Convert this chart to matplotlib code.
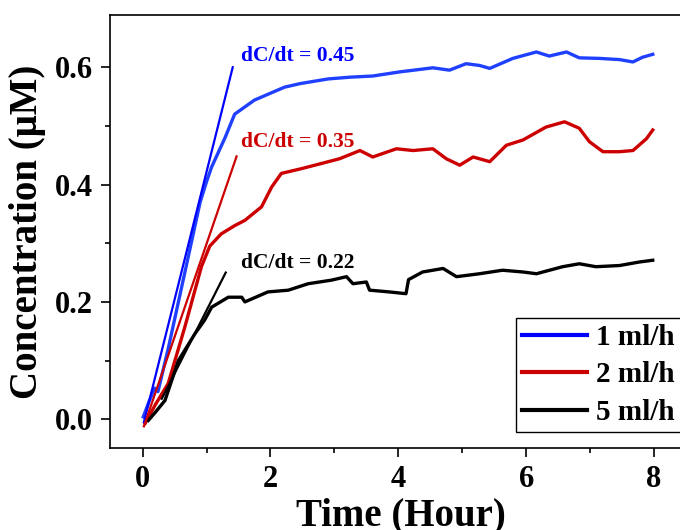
import numpy as np
import matplotlib
matplotlib.use("Agg")
import matplotlib.pyplot as plt
from matplotlib.ticker import MultipleLocator

plt.rcParams["font.family"] = ["Liberation Serif", "DejaVu Serif"]
plt.rcParams["font.weight"] = "bold"

# *********************************************************************************************
# data
# *********************************************************************************************
t_1ml = [0.01, 0.10, 0.19, 0.24, 0.40, 0.60, 0.77, 0.90, 1.00, 1.08, 1.29, 1.44, 1.75, 2.22,
         2.46, 2.90, 3.24, 3.60, 4.02, 4.54, 4.80, 5.06, 5.27, 5.43, 5.79, 6.16, 6.36, 6.63,
         6.83, 7.15, 7.46, 7.67, 7.82, 7.98]
c_1ml = [0.004, 0.030, 0.053, 0.047, 0.120, 0.220, 0.305, 0.370, 0.405, 0.430, 0.480, 0.520,
         0.544, 0.566, 0.572, 0.580, 0.583, 0.585, 0.592, 0.599, 0.595, 0.606, 0.603, 0.598,
         0.615, 0.626, 0.619, 0.626, 0.616, 0.615, 0.613, 0.609, 0.617, 0.622]

t_2ml = [0.04, 0.20, 0.40, 0.66, 0.92, 1.05, 1.23, 1.44, 1.60, 1.86, 2.02, 2.17, 2.48, 2.80,
         3.08, 3.40, 3.60, 3.97, 4.23, 4.54, 4.75, 4.96, 5.17, 5.43, 5.69, 5.95, 6.31, 6.60,
         6.83, 6.99, 7.20, 7.46, 7.67, 7.88, 7.98]
c_2ml = [-0.007, 0.025, 0.061, 0.157, 0.260, 0.295, 0.316, 0.330, 0.339, 0.362, 0.396, 0.419,
         0.427, 0.436, 0.444, 0.458, 0.447, 0.461, 0.458, 0.461, 0.444, 0.433, 0.447, 0.439,
         0.467, 0.476, 0.498, 0.507, 0.496, 0.473, 0.456, 0.456, 0.458, 0.478, 0.493]

t_5ml = [0.09, 0.20, 0.35, 0.56, 0.82, 0.97, 1.08, 1.34, 1.55, 1.60, 1.96, 2.28, 2.59, 2.95,
         3.19, 3.29, 3.50, 3.55, 3.86, 4.12, 4.16, 4.38, 4.70, 4.91, 5.27, 5.63, 5.95, 6.16,
         6.57, 6.83, 7.09, 7.46, 7.77, 7.98]
c_5ml = [-0.002, 0.012, 0.032, 0.100, 0.146, 0.169, 0.191, 0.208, 0.208, 0.200, 0.217, 0.220,
         0.231, 0.237, 0.243, 0.231, 0.234, 0.220, 0.217, 0.214, 0.238, 0.251, 0.257, 0.243,
         0.248, 0.254, 0.251, 0.248, 0.260, 0.265, 0.260, 0.262, 0.268, 0.271]

# linear fits of the initial slope (end points)
fit_t = [[0.02, 1.41], [0.02, 1.47], [0.30, 1.30]]
fit_c = [[-0.005, 0.60], [-0.012, 0.448], [0.035, 0.250]]
slopes = [0.45, 0.35, 0.22]
slope_t = [1.54, 1.54, 1.54]
slope_c = [0.610, 0.464, 0.257]

labels = ["1 ml/h", "2 ml/h", "5 ml/h"]
line_colors = ["#2040ff", "#cc0000", "black"]
fit_colors = ["#0000ff", "#cc0000", "black"]

# *********************************************************************************************
# plot
# *********************************************************************************************
fig = plt.figure(figsize=(6.8, 5.3), dpi=100)
ax = fig.add_axes([110 / 680, 1 - 448 / 530, 582.4 / 680, 433 / 530])

series = [(t_1ml, c_1ml), (t_2ml, c_2ml), (t_5ml, c_5ml)]
for (t, c), lab, col in zip(series, labels, line_colors):
    ax.plot(t, c, color=col, lw=2.4, label=lab)

for ft, fc, col in zip(fit_t, fit_c, fit_colors):
    ax.plot(ft, fc, color=col, lw=1.6)

for s, x, y, col in zip(slopes, slope_t, slope_c, fit_colors):
    ax.text(x, y, "dC/dt = {:.2f}".format(s), color=col, fontsize=15.5,
            fontweight="bold", va="baseline", ha="left")

ax.set_xlim(-0.51, 8.6)
ax.set_ylim(-0.049, 0.689)
ax.xaxis.set_major_locator(MultipleLocator(2))
ax.xaxis.set_minor_locator(MultipleLocator(1))
ax.yaxis.set_major_locator(MultipleLocator(0.2))
ax.yaxis.set_minor_locator(MultipleLocator(0.1))
ax.xaxis.set_major_formatter(plt.FuncFormatter(lambda v, p: "{:.0f}".format(v)))
ax.yaxis.set_major_formatter(plt.FuncFormatter(lambda v, p: "{:.1f}".format(v)))
ax.tick_params(which="major", direction="out", length=6.5, width=1.2, labelsize=22, pad=6)
ax.tick_params(which="minor", direction="out", length=3.5, width=1.2)
for sp in ax.spines.values():
    sp.set_linewidth(1.2)

ax.set_xlabel("Time (Hour)", fontsize=28, fontweight="bold", labelpad=2)
ax.set_ylabel("Concentration (\u03bcM)", fontsize=28, fontweight="bold", labelpad=6)

leg_lines = [plt.Line2D([], [], color=c, lw=3) for c in fit_colors]
leg = fig.legend(leg_lines, labels, loc="upper left", bbox_to_anchor=(516 / 680, 1 - 318 / 530),
                 bbox_transform=fig.transFigure, borderaxespad=0, fancybox=False,
                 edgecolor="black", framealpha=1, prop={"size": 21, "weight": "bold"},
                 handlelength=2.25, handletextpad=0.3, labelspacing=0.36, borderpad=0.2)
leg.get_frame().set_linewidth(1.0)

fig.savefig("out.png", dpi=100)
